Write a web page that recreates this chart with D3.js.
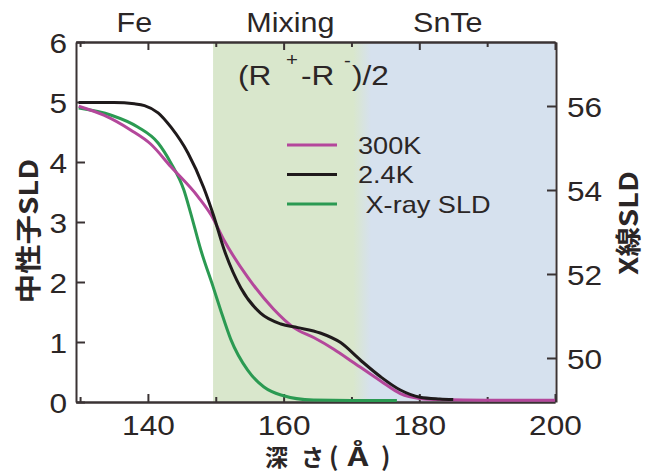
<!DOCTYPE html>
<html lang="ja">
<head>
<meta charset="UTF-8">
<title>SLD depth profile</title>
<script src="https://cdnjs.cloudflare.com/ajax/libs/d3/7.9.0/d3.min.js"></script>
<style>
  body { margin: 0; background: #fff; }
  text { font-family: "Liberation Sans", Arial, sans-serif; fill: #2b2626; }
  .jp { font-family: "Noto Sans CJK JP", sans-serif; font-weight: bold; }
</style>
</head>
<body>
<svg id="chart" width="656" height="473"></svg>
<script>
// neutron SLD, 300K (left axis)
const depth300K = [129.8, 133.5, 137.5, 140.4, 143.4, 147.4, 149.3, 151.2, 154.7, 158.5, 161.5, 164.5, 167.4, 170.4, 174.3, 177.2, 180, 183, 190, 200];
const sld300K = [4.93, 4.78, 4.53, 4.3, 3.92, 3.42, 3.12, 2.7, 2.08, 1.55, 1.24, 1.07, 0.88, 0.65, 0.35, 0.14, 0.06, 0.04, 0.03, 0.03];
// neutron SLD, 2.4K (left axis)
const depth2K = [129.8, 135, 138, 139.5, 141.5, 143.4, 145.9, 148.2, 149.7, 151.2, 153.7, 156.6, 159.6, 162.1, 165.4, 168.4, 171.3, 174.3, 177.2, 180.1, 183, 185];
const sld2K = [4.99, 4.99, 4.97, 4.94, 4.82, 4.58, 4.15, 3.58, 3.1, 2.55, 1.9, 1.48, 1.3, 1.24, 1.15, 0.99, 0.7, 0.42, 0.2, 0.08, 0.05, 0.04];
// X-ray SLD (right axis)
const depthXray = [129.8, 134.6, 138.5, 141.5, 143.4, 145.3, 146.3, 147.8, 149.6, 150.7, 152.2, 154.7, 157.1, 159.6, 164.4, 170, 176.7];
const sldXray = [55.95, 55.78, 55.5, 55.12, 54.64, 54.0, 53.45, 52.57, 51.7, 51.15, 50.45, 49.71, 49.31, 49.12, 49.0, 48.99, 48.99];

const legendLabels = ["300K", "2.4K", " X-ray SLD"];
const seriesColors = ["#b4479b", "#1f1a1b", "#2b9a52"];
const regionNames = ["Fe", "Mixing", "SnTe"];
const regionCenters = [138, 161, 184.2];
const mixStart = 149.6, snteStart = 172;
const bottomMajor = [140, 160, 180, 200];
const bottomMinor = [130, 150, 170, 190];
const leftTicks = [0, 1, 2, 3, 4, 5, 6];
const rightTicks = [50, 52, 54, 56];

const SX = 1.13; // the original lettering is a bit wide
const axisColor = "#3a3334";

const svg = d3.select("#chart");
const pLeft = 76, pRight = 555, pTop = 42, pBottom = 402;

const x = d3.scaleLinear().domain([129.4, 200]).range([pLeft, pRight]);
const yL = d3.scaleLinear().domain([0, 6]).range([pBottom, pTop]);
const yR = d3.scaleLinear().domain([48.952, 57.524]).range([pBottom, pTop]);

// shading for mixing / SnTe regions
const defs = svg.append("defs");
const grad = defs.append("linearGradient").attr("id", "shade")
    .attr("gradientUnits", "userSpaceOnUse")
    .attr("x1", x(snteStart) - 12).attr("x2", x(snteStart) + 6).attr("y1", 0).attr("y2", 0);
grad.append("stop").attr("offset", 0).attr("stop-color", "#d9e7cc");
grad.append("stop").attr("offset", 1).attr("stop-color", "#d6e1ee");

svg.append("rect")
    .attr("x", x(mixStart)).attr("y", pTop)
    .attr("width", x(200) - x(mixStart)).attr("height", pBottom - pTop)
    .attr("fill", "url(#shade)");

function stretch(sel) {
    sel.each(function () {
        const t = d3.select(this);
        const tx = +t.attr("x") || 0;
        t.attr("x", tx / SX).attr("transform", `scale(${SX},1)`);
    });
}

function styleAxis(g) {
    g.select(".domain").attr("stroke", axisColor).attr("stroke-width", 2);
    g.selectAll(".tick line").attr("stroke", axisColor).attr("stroke-width", 2);
    g.selectAll(".tick text").attr("font-size", 28).attr("fill", "#2b2626")
        .attr("font-family", '"Liberation Sans", Arial, sans-serif');
}

// bottom
svg.append("g").attr("transform", `translate(0,${pBottom})`)
    .call(d3.axisBottom(x).tickValues(bottomMinor).tickSize(-5).tickSizeOuter(0).tickFormat(""))
    .call(styleAxis);
const gb = svg.append("g").attr("transform", `translate(0,${pBottom})`)
    .call(d3.axisBottom(x).tickValues(bottomMajor).tickSize(-8).tickSizeOuter(0).tickPadding(13))
    .call(styleAxis);
gb.selectAll(".tick text").call(stretch);

// top
svg.append("g").attr("transform", `translate(0,${pTop})`)
    .call(d3.axisTop(x).tickValues(bottomMinor).tickSize(-5).tickSizeOuter(0).tickFormat(""))
    .call(styleAxis);
svg.append("g").attr("transform", `translate(0,${pTop})`)
    .call(d3.axisTop(x).tickValues(bottomMajor).tickSize(-8).tickSizeOuter(0).tickFormat(""))
    .call(styleAxis);

// left
const gl = svg.append("g").attr("transform", `translate(${pLeft},0)`)
    .call(d3.axisLeft(yL).tickValues(leftTicks).tickFormat(d3.format("d"))
        .tickSize(-9).tickSizeOuter(0).tickPadding(9))
    .call(styleAxis);
gl.selectAll(".tick text").attr("dy", "0.36em").call(stretch);

// right
const gr = svg.append("g").attr("transform", `translate(${pRight + 1},0)`)
    .call(d3.axisRight(yR).tickValues(rightTicks).tickFormat(d3.format("d"))
        .tickSize(-9).tickSizeOuter(0).tickPadding(11))
    .call(styleAxis);
gr.selectAll(".tick text").attr("dy", "0.37em").call(stretch);

// curves
const lineL = d3.line().x(d => x(d[0])).y(d => yL(d[1])).curve(d3.curveMonotoneX);
const lineR = d3.line().x(d => x(d[0])).y(d => yR(d[1])).curve(d3.curveMonotoneX);

svg.append("path").datum(d3.zip(depthXray, sldXray))
    .attr("d", lineR).attr("fill", "none").attr("stroke", seriesColors[2]).attr("stroke-width", 3);
svg.append("path").datum(d3.zip(depth300K, sld300K))
    .attr("d", lineL).attr("fill", "none").attr("stroke", seriesColors[0]).attr("stroke-width", 3);
svg.append("path").datum(d3.zip(depth2K, sld2K))
    .attr("d", lineL).attr("fill", "none").attr("stroke", seriesColors[1]).attr("stroke-width", 3);

// region labels above the frame
svg.selectAll(".region").data(regionNames).enter().append("text")
    .attr("class", "region")
    .attr("x", (d, i) => x(regionCenters[i])).attr("y", 32)
    .attr("text-anchor", "middle").attr("font-size", 27)
    .text(d => d)
    .call(stretch);

// (R+ - R-)/2
const ann = svg.append("text").attr("transform", `scale(${SX},1)`).attr("font-size", 28);
ann.append("tspan").attr("x", 238 / SX).attr("y", 85).text("(R");
ann.append("tspan").attr("x", 286 / SX).attr("y", 66).attr("font-size", 18).text("+");
ann.append("tspan").attr("x", 301 / SX).attr("y", 85).text("-R");
ann.append("tspan").attr("x", 344 / SX).attr("y", 67).attr("font-size", 18).text("-");
ann.append("tspan").attr("x", 352 / SX).attr("y", 85).text(")/2");

// legend
const lg = svg.append("g");
legendLabels.forEach((lab, i) => {
    const ly = 145 + i * 29.5;
    lg.append("line").attr("x1", 287).attr("x2", 337).attr("y1", ly).attr("y2", ly)
        .attr("stroke", seriesColors[i]).attr("stroke-width", 3);
    lg.append("text").attr("x", 358).attr("y", ly + 9).attr("font-size", 24)
        .style("white-space", "pre").text(lab).call(stretch);
});

// axis titles
svg.append("text").attr("class", "jp")
    .attr("transform", `translate(29,231) rotate(-90) scale(${SX},1)`)
    .attr("text-anchor", "middle").attr("dy", "0.36em").attr("font-size", 26)
    .text("中性子SLD");
svg.append("text").attr("class", "jp")
    .attr("transform", `translate(629,223) rotate(-90) scale(${SX},1)`)
    .attr("text-anchor", "middle").attr("dy", "0.36em").attr("font-size", 26)
    .text("X線SLD");

const xt = svg.append("text").attr("class", "jp").attr("y", 466).attr("font-size", 23);
xt.append("tspan").attr("x", 265).text("深");
xt.append("tspan").attr("x", 301).text("さ");
xt.append("tspan").attr("x", 329).attr("font-size", 25).text("(");
xt.append("tspan").attr("x", 381).attr("font-size", 25).text(")");
svg.append("text").attr("class", "jp")
    .attr("transform", "translate(358,466) scale(1.3,1)")
    .attr("text-anchor", "middle").attr("font-size", 25).text("Å");
</script>
</body>
</html>
